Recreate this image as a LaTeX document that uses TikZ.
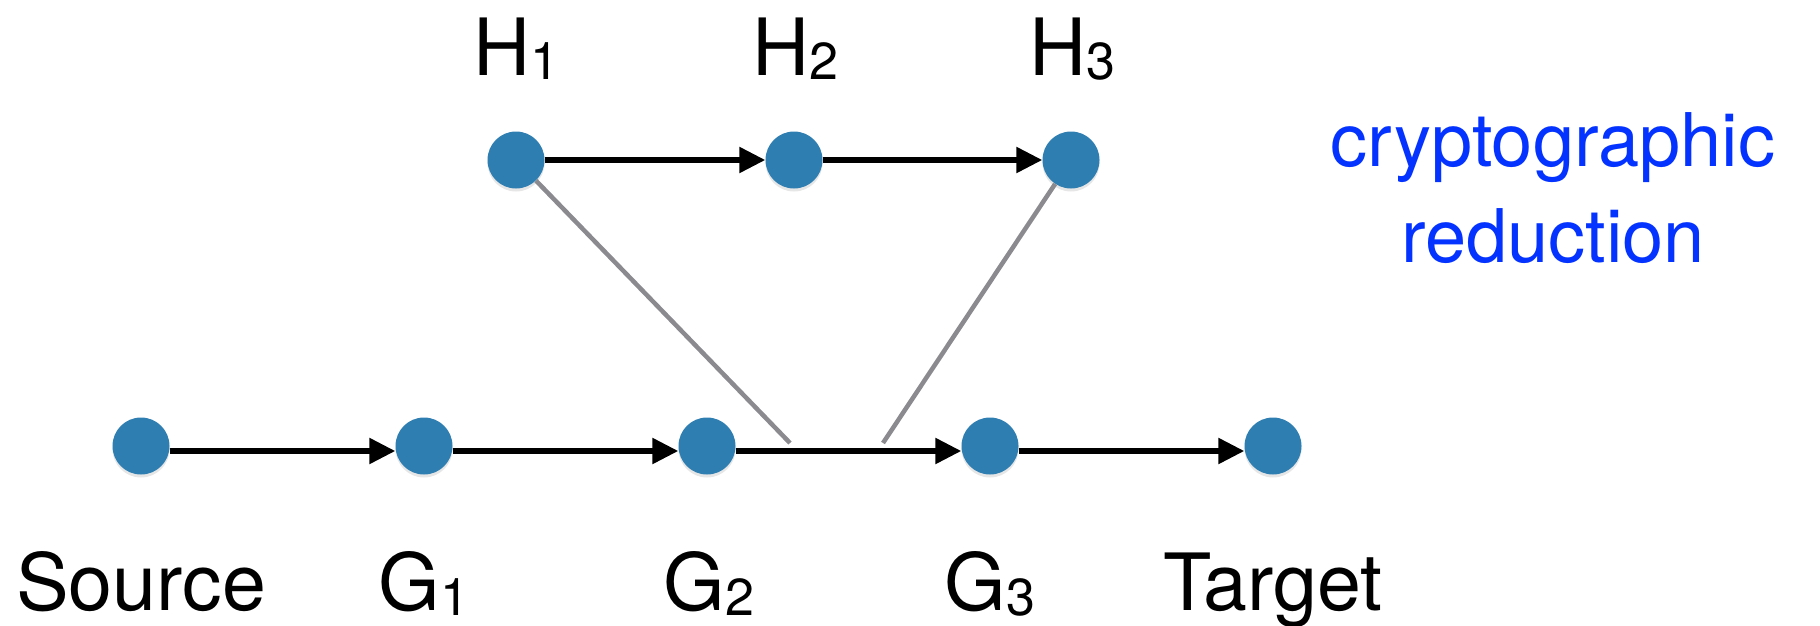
\documentclass[tikz,border=0pt]{standalone}
\usepackage{fontspec}
\setmainfont{TeX Gyre Heros}
\usetikzlibrary{arrows.meta,shadows}
\definecolor{dotblue}{RGB}{47,126,178}
\definecolor{txtblue}{RGB}{4,51,255}
\definecolor{linkgray}{RGB}{138,138,143}
\newcommand{\subidx}[1]{\raisebox{-5pt}{\fontsize{52}{60}\selectfont #1}}
\begin{document}
\begin{tikzpicture}[x=1pt,y=-1pt,
  dot/.style={circle,fill=dotblue,minimum size=57pt,inner sep=0pt,
    drop shadow={shadow xshift=0pt,shadow yshift=-3pt,opacity=0.2}},
  flow/.style={line width=5.5pt,-{Triangle[length=26pt,width=25pt]}},
  link/.style={line width=4.5pt,draw=linkgray},
  lbl/.style={font=\fontsize{79}{90}\selectfont,anchor=base,inner sep=0pt},
  note/.style={anchor=base,inner sep=0pt,font=\fontsize{74}{90}\selectfont,text=txtblue}]
\useasboundingbox (0,0) rectangle (1820,626);
% bottom row
\node[dot] (src) at (141,446) {};
\node[dot] (g1) at (424,446) {};
\node[dot] (g2) at (707,446) {};
\node[dot] (g3) at (990,446) {};
\node[dot] (tgt) at (1273,446) {};
% top row
\node[dot] (h1) at (516,160) {};
\node[dot] (h2) at (794,160) {};
\node[dot] (h3) at (1071,160) {};
% free ends of the gray links
\coordinate (e1) at (790,443);
\coordinate (e2) at (883,443);
% gray links
\draw[link] (h1) -- (e1);
\draw[link] (h3) -- (e2);
% arrows
\draw[flow] ([yshift=-5pt]src.east) -- ([yshift=-5pt]g1.west);
\draw[flow] ([yshift=-5pt]g1.east) -- ([yshift=-5pt]g2.west);
\draw[flow] ([yshift=-5pt]g2.east) -- ([yshift=-5pt]g3.west);
\draw[flow] ([yshift=-5pt]g3.east) -- ([yshift=-5pt]tgt.west);
\draw[flow] (h1) -- (h2);
\draw[flow] (h2) -- (h3);
% labels
\node[lbl] (lsrc) at (141,610) {Source};
\node[lbl] (lg1) at (424,610) {G\subidx{1}};
\node[lbl] (lg2) at (709,610) {G\subidx{2}};
\node[lbl] (lg3) at (990,610) {G\subidx{3}};
\node[lbl] (ltgt) at (1273,610) {Target};
\node[lbl] (lh1) at (516,75) {H\subidx{1}};
\node[lbl] (lh2) at (795,75) {H\subidx{2}};
\node[lbl] (lh3) at (1072,75) {H\subidx{3}};
\node[note] (crypt) at (1553,166) {cryptographic};
\node[note] (reduc) at (1553,262) {reduction};
\end{tikzpicture}
\end{document}
